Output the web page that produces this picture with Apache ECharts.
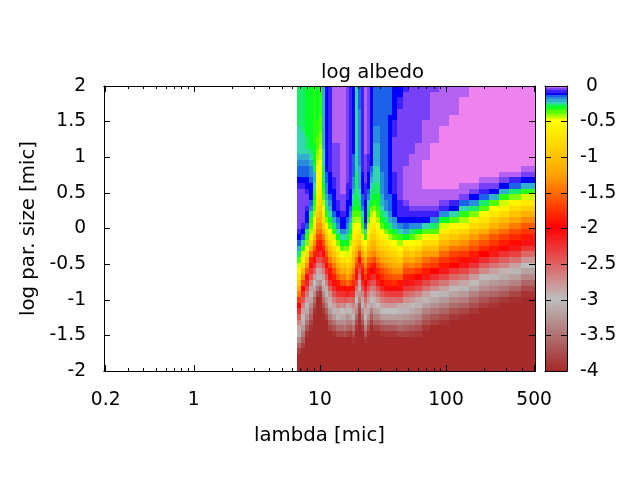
<!DOCTYPE html>
<html><head><meta charset="utf-8">
<style>html,body{margin:0;padding:0;background:#fff}#c{width:640px;height:480px}</style>
<script src="https://cdn.jsdelivr.net/npm/echarts@6/dist/echarts.min.js"></script>
</head><body><div id="c"></div>
<script>
// wavelength cell edges [mic]
const lambdaEdges=[6.59,7.08,7.61,8.19,8.81,9.30,9.82,10.37,10.95,11.56,12.43,13.37,14.38,15.46,16.03,16.93,17.88,18.88,19.94,21.05,22.23,23.48,24.79,26.17,27.64,29.72,31.96,34.37,37.64,41.21,45.95,51.24,57.14,64.88,75.04,88.36,105.9,127,152.3,182.6,219,262.6,314.7,391.4,508];
// log particle size rows, top to bottom
const sizeTop=2, sizeStep=0.08;
// -100 x log albedo: one line per wavelength cell, 50 sizes from top to bottom
const albedoByLambda=[
[27,27,27,27,27,27,27,26,25,24,24,24,22,18,16,15,12,8,6,5,5,5,5,5,7,9,12,17,22,28,37,47,58,75,95,120,145,175,200,225,250,270,290,308,335,360,385,400,400,400],
[29,29,29,29,29,29,28,27,26,25,24,24,21,18,16,15,13,10,7,5,5,5,5,7,9,12,15,26,33,47,60,78,105,135,165,200,225,245,265,285,298,310,325,345,365,385,400,400,400,400],
[31,31,31,31,31,31,31,31,30,29,28,25,23,20,17,16,14,12,9,7,7,8,11,13,17,28,33,42,50,75,100,130,160,195,220,240,262,280,298,315,332,350,370,390,400,400,400,400,400,400],
[32,32,32,32,32,32,32,32,32,31,30,28,24,21,19,18,16,14,13,12,15,19,28,33,38,45,58,85,115,150,185,205,225,245,265,285,305,320,335,350,365,380,395,400,400,400,400,400,400,400],
[33,33,33,33,33,33,33,33,33,33,32,31,31,30,27,23,22,24,27,30,33,38,44,50,62,85,110,135,160,185,205,225,250,280,300,315,335,355,375,390,400,400,400,400,400,400,400,400,400,400],
[32,32,32,32,32,32,33,34,35,36,38,40,43,47,50,53,55,58,60,65,72,82,95,115,130,145,165,180,195,215,240,265,290,305,325,350,380,400,400,400,400,400,400,400,400,400,400,400,400,400],
[33,33,33,34,35,36,37,38,40,42,44,46,48,50,52,55,58,62,68,75,85,95,105,120,135,150,170,190,205,225,245,265,285,305,335,365,390,400,400,400,400,400,400,400,400,400,400,400,400,400],
[22,22,22,22,22,22,22,22,22,22,23,24,25,26,27,28,29,31,34,38,45,52,62,75,95,120,145,165,185,205,225,245,265,285,300,315,335,355,375,390,400,400,400,400,400,400,400,400,400,400],
[14,14,14,14,14,14,14,14,14,14,14,14,14,14,14,15,16,18,20,22,25,29,33,42,55,72,95,120,140,160,180,205,225,250,270,290,305,325,345,365,385,400,400,400,400,400,400,400,400,400],
[8,8,8,8,8,8,8,8,8,8,8,8,8,9,10,11,12,12,13,16,18,21,25,30,38,50,65,85,105,125,145,170,190,205,225,250,275,290,305,325,345,365,385,400,400,400,400,400,400,400],
[4,4,4,4,4,4,4,4,4,4,5,6,6,6,6,7,8,10,11,12,13,13,16,21,27,33,47,60,78,100,122,145,165,185,205,222,245,265,283,305,325,350,372,395,400,400,400,400,400,400],
[3,3,3,3,3,3,3,3,3,3,5,5,5,6,6,6,6,6,7,7,8,10,12,15,19,25,32,42,58,72,95,115,135,155,190,205,228,250,270,292,310,335,355,380,400,400,400,400,400,400],
[3,3,3,3,3,3,3,3,3,3,3,3,3,3,3,3,4,4,4,5,6,7,9,12,14,18,25,30,38,50,72,95,115,140,165,195,225,250,275,300,315,335,355,380,400,400,400,400,400,400],
[3,3,3,3,3,3,3,3,3,3,3,3,3,3,3,3,4,4,4,5,6,7,9,12,14,18,24,31,40,52,78,100,125,145,170,200,222,245,268,295,312,330,350,372,398,400,400,400,400,400],
[6,6,6,6,6,6,6,6,6,6,6,6,6,6,6,6,7,8,9,10,11,12,14,16,18,23,28,32,40,48,62,80,100,125,150,190,215,250,290,305,330,345,360,385,400,400,400,400,400,400],
[8,8,8,8,8,8,8,8,8,8,8,8,8,9,9,10,10,10,11,12,13,15,18,22,27,32,38,45,52,65,82,100,120,140,165,195,225,255,280,298,320,345,365,390,400,400,400,400,400,400],
[13,13,13,13,13,13,13,13,13,13,14,14,15,15,16,17,18,20,22,25,29,32,36,42,46,55,65,75,85,100,105,120,140,160,180,195,225,250,270,285,305,330,350,375,395,400,400,400,400,400],
[24,24,24,24,25,25,25,25,25,25,25,25,26,26,26,27,27,28,29,30,32,35,38,44,52,60,72,88,105,125,150,170,190,210,235,260,280,300,320,335,355,375,395,400,400,400,400,400,400,400],
[17,17,17,17,18,18,18,18,18,19,19,19,20,20,21,21,22,23,24,26,29,32,36,45,55,65,80,100,130,165,205,225,245,265,290,305,325,345,370,385,395,400,400,400,400,400,400,400,400,400],
[8,8,8,8,8,8,8,8,8,8,8,8,8,9,10,11,12,13,14,15,17,20,24,29,34,40,52,70,95,120,145,170,190,205,222,245,268,290,305,330,350,370,390,400,400,400,400,400,400,400],
[3,3,3,3,3,3,3,3,3,3,4,4,5,5,6,6,7,8,9,10,11,12,13,14,16,24,33,50,70,90,115,135,155,178,198,215,235,255,272,287,298,318,340,365,390,400,400,400,400,400],
[7,7,7,7,7,7,7,7,7,7,7,7,8,9,10,11,12,13,15,18,24,27,31,38,46,55,68,85,105,125,150,170,190,205,225,245,265,280,295,315,335,355,375,395,400,400,400,400,400,400],
[12,12,12,12,12,12,12,12,12,12,12,12,13,14,15,18,22,25,27,29,32,38,45,55,65,75,90,105,120,135,155,180,200,220,240,265,285,300,320,345,365,385,400,400,400,400,400,400,400,400],
[15,15,15,15,16,16,17,18,19,20,21,22,22,23,24,25,26,27,29,31,34,40,50,58,68,80,92,108,122,140,165,190,205,225,245,262,278,295,310,325,340,360,385,400,400,400,400,400,400,400],
[16,16,16,16,16,16,17,18,19,20,21,22,22,23,24,25,26,27,29,31,32,34,38,44,50,60,72,88,100,118,140,160,180,195,215,240,260,280,300,318,340,362,385,400,400,400,400,400,400,400],
[16,16,16,16,16,16,16,16,16,16,16,16,17,17,17,18,18,19,20,21,23,26,29,32,38,50,60,75,90,108,125,145,165,182,198,220,245,265,285,302,325,350,375,395,400,400,400,400,400,400],
[16,16,16,16,16,16,16,16,16,16,15,15,15,15,15,16,16,16,17,17,18,20,24,28,32,42,55,68,82,100,115,135,155,170,188,205,235,258,280,300,322,345,370,392,400,400,400,400,400,400],
[15,15,15,15,15,14,13,13,13,13,13,13,13,12,12,12,12,13,14,15,15,17,20,23,28,35,45,60,75,92,110,128,145,165,185,205,232,255,278,300,322,345,368,390,400,400,400,400,400,400],
[13,12,12,12,12,11,10,9,8,7,7,7,7,7,7,8,8,9,10,11,12,13,14,18,22,30,38,52,68,85,102,120,138,158,178,205,230,255,280,300,322,345,368,390,400,400,400,400,400,400],
[12,11,10,8,7,7,6,6,6,6,6,6,5,5,5,5,5,5,6,7,8,9,10,13,18,25,33,45,55,72,95,115,135,160,190,210,232,255,290,305,322,340,360,385,400,400,400,400,400,400],
[9,7,6,6,6,6,6,6,6,6,6,6,6,5,3,3,3,3,3,4,6,8,10,12,16,22,32,50,78,103,125,147,167,187,208,228,252,275,292,308,325,345,365,385,400,400,400,400,400,400],
[7,6,6,6,6,6,6,6,6,6,6,5,4,3,3,3,3,3,3,3,4,6,8,12,18,28,38,50,72,95,120,142,165,190,212,232,258,282,302,315,330,348,368,388,400,400,400,400,400,400],
[6,6,6,6,6,6,6,6,6,6,3,3,3,3,3,3,3,3,3,3,4,6,10,13,20,30,45,60,82,108,130,150,175,200,222,242,270,292,308,322,338,355,375,392,400,400,400,400,400,400],
[6,6,6,6,6,5,3,3,3,3,3,3,3,1,0,0,0,1,3,3,3,5,8,13,24,36,50,78,105,128,150,168,188,212,238,258,285,305,322,340,358,375,392,400,400,400,400,400,400,400],
[6,3,3,3,3,3,3,3,3,3,1,0,0,0,0,0,0,0,3,3,3,6,10,18,27,36,55,80,105,128,160,175,200,225,250,272,298,315,332,350,368,385,400,400,400,400,400,400,400,400],
[3,3,3,3,3,3,3,1,0,0,0,0,0,0,0,0,0,0,3,3,5,9,18,32,46,62,85,110,130,153,175,190,212,237,262,283,305,325,342,360,378,395,400,400,400,400,400,400,400,400],
[3,3,3,3,3,1,0,0,0,0,0,0,0,0,0,0,0,0,3,3,8,14,26,38,55,75,98,125,147,168,185,200,227,252,277,298,318,338,355,375,392,400,400,400,400,400,400,400,400,400],
[3,3,1,0,0,0,0,0,0,0,0,0,0,0,0,0,0,2,3,7,16,25,33,45,60,85,110,135,153,175,193,212,237,262,288,305,325,345,362,382,398,400,400,400,400,400,400,400,400,400],
[0,0,0,0,0,0,0,0,0,0,0,0,0,0,0,0,1,3,6,11,20,29,42,58,80,103,128,150,167,187,208,229,254,280,303,320,340,358,375,392,400,400,400,400,400,400,400,400,400,400],
[0,0,0,0,0,0,0,0,0,0,0,0,0,0,0,0,3,5,10,17,28,36,55,72,92,118,143,163,180,200,225,246,271,296,318,335,352,372,388,400,400,400,400,400,400,400,400,400,400,400],
[0,0,0,0,0,0,0,0,0,0,0,0,0,0,0,1,3,7,13,22,36,50,68,90,113,138,158,175,190,212,237,258,283,305,325,340,360,380,395,400,400,400,400,400,400,400,400,400,400,400],
[0,0,0,0,0,0,0,0,0,0,0,0,0,0,0,2,6,14,22,33,48,62,82,105,128,150,172,188,202,225,250,270,295,312,332,350,370,390,400,400,400,400,400,400,400,400,400,400,400,400],
[0,0,0,0,0,0,0,0,0,0,0,0,0,0,1,3,8,16,28,42,60,78,100,122,145,165,180,195,212,235,260,285,305,322,342,362,382,398,400,400,400,400,400,400,400,400,400,400,400,400],
[0,0,0,0,0,0,0,0,0,0,0,0,0,1,3,7,14,22,33,48,70,92,115,138,158,175,190,208,228,252,278,300,318,338,358,378,395,400,400,400,400,400,400,400,400,400,400,400,400,400]
];
const xMajorTicks=[0.2,1,10,100,500];
const xMinorTicks=[0.3,0.4,0.5,0.6,0.7,0.8,0.9,2,3,4,5,6,7,8,9,20,30,40,50,60,70,80,90,200,300,400];
const paletteValues=[0,-0.125,-0.16,-0.22,-0.25,-0.31,-0.375,-0.5,-1.25,-2,-3,-4];
const paletteColors=[[238,130,238],[0,0,255],[30,110,230],[50,175,205],[50,215,175],[0,255,40],[80,255,0],[255,255,0],[255,165,0],[255,0,0],[190,190,190],[165,42,42]];
const colorSteps=128;

function colorOf(v){
  const q=-Math.round(-v*colorSteps/4)*4/colorSteps;
  let i=0;
  while(i<paletteValues.length-2&&q<paletteValues[i+1])i++;
  const t=Math.min(1,(paletteValues[i]-q)/(paletteValues[i]-paletteValues[i+1]));
  const a=paletteColors[i],b=paletteColors[i+1];
  return 'rgb('+[0,1,2].map(k=>Math.round(a[k]+(b[k]-a[k])*t)).join(',')+')';
}
const mapData=[];
albedoByLambda.forEach((col,ix)=>col.forEach((n,iy)=>{
  const hi=sizeTop-iy*sizeStep;
  mapData.push([lambdaEdges[ix],lambdaEdges[ix+1],hi-sizeStep,hi,-n/100]);
}));
const barData=[];
for(let k=1;k<=colorSteps;k++)barData.push([0,1,-k*4/colorSteps,-(k-1)*4/colorSteps,-k*4/colorSteps]);

function cell(params,api){
  const p0=api.coord([api.value(0),api.value(2)]),p1=api.coord([api.value(1),api.value(3)]);
  const x0=Math.round(p0[0]),x1=Math.round(p1[0]),y0=Math.round(p0[1]),y1=Math.round(p1[1]);
  return {type:'rect',shape:{x:Math.min(x0,x1),y:Math.min(y0,y1),width:Math.abs(x1-x0),height:Math.abs(y1-y0)},
    style:{fill:colorOf(api.value(4))}};
}
const F='"DejaVu Sans"',FS=18.67,FT=19.7;
const line={show:true,onZero:false,lineStyle:{color:'#000',width:1}};
function xAx(pos,ticks,len,labels){
  return {type:'log',logBase:10,min:0.194,max:508,gridIndex:0,position:pos,z:10,axisLine:line,splitLine:{show:false},minorTick:{show:false},
    axisTick:{show:true,inside:true,length:len,lineStyle:{color:'#000'},customValues:ticks},
    axisLabel:labels?{show:true,customValues:ticks,fontFamily:F,fontSize:FS,color:'#000',margin:20,showMinLabel:true,showMaxLabel:true,formatter:v=>String(+(+v).toPrecision(3))}:{show:false},
    name:labels?'lambda [mic]':'',nameLocation:'middle',nameGap:55,nameTextStyle:{fontFamily:F,fontSize:FT,color:'#000'}};
}
function yAx(pos,grid,labels,name,min){
  return {type:'value',min:min,max:grid?0:2,interval:0.5,gridIndex:grid,position:pos,z:10,axisLine:line,splitLine:{show:false},
    axisTick:{show:true,inside:true,length:6,lineStyle:{color:'#000'}},
    axisLabel:labels?{show:true,fontFamily:F,fontSize:FS,color:'#000',margin:grid?13:18,showMinLabel:true,showMaxLabel:true,formatter:v=>(grid&&v===0)?' 0':String(v)}:{show:false},
    name:name,nameLocation:'middle',nameRotate:90,nameGap:63,nameTextStyle:{fontFamily:F,fontSize:FT,color:'#000'}};
}
const barX=(pos)=>({type:'value',min:0,max:1,gridIndex:1,position:pos,z:10,axisLine:line,axisTick:{show:false},axisLabel:{show:false},splitLine:{show:false}});
const chart=echarts.init(document.getElementById('c'),null,{renderer:'canvas',width:640,height:480});
chart.setOption({
  animation:false,backgroundColor:'#fff',
  title:{text:'log albedo',left:316,top:58,textStyle:{fontFamily:F,fontSize:FT,fontWeight:'normal',color:'#000'}},
  grid:[{left:104,top:86,width:431,height:285},{left:545,top:86,width:22,height:285}],
  xAxis:[xAx('bottom',xMajorTicks,6,true),xAx('top',xMajorTicks,6,false),xAx('bottom',xMinorTicks,3,false),xAx('top',xMinorTicks,3,false),barX('bottom'),barX('top')],
  yAxis:[yAx('left',0,true,'log par. size [mic]',-2),yAx('right',0,false,'',-2),yAx('right',1,true,'',-4),yAx('left',1,false,'',-4)],
  series:[
    {type:'custom',xAxisIndex:0,yAxisIndex:0,renderItem:cell,data:mapData,encode:{x:[0,1],y:[2,3]},clip:true,silent:true},
    {type:'custom',xAxisIndex:4,yAxisIndex:2,renderItem:cell,data:barData,encode:{x:[0,1],y:[2,3]},clip:true,silent:true}
  ]
});
</script></body></html>
